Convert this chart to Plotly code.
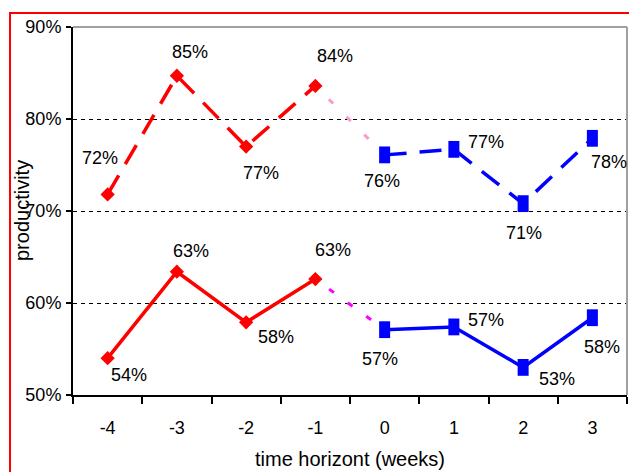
import plotly.graph_objects as go

# Weeks relative to the intervention
weeks_before = ["-4", "-3", "-2", "-1"]
weeks_after = ["0", "1", "2", "3"]
all_weeks = weeks_before + weeks_after

# Productivity (%) - upper series (dashed)
upper_before = [71.8, 84.7, 77.0, 83.6]
upper_after = [76.1, 76.7, 70.8, 77.9]

# Productivity (%) - lower series (solid)
lower_before = [54.0, 63.4, 57.9, 62.6]
lower_after = [57.1, 57.4, 53.0, 58.4]

y_ticks = [50, 60, 70, 80, 90]

# Value label offsets in pixels (dx, dy) for each point
upper_before_off = [(-8, -36), (13, -24), (15, 26), (20, -30)]
upper_after_off = [(-3, 26), (32, -7), (1, 29), (17, 24)]
lower_before_off = [(21, 17), (14, -21), (30, 15), (18, -29)]
lower_after_off = [(-5, 29), (32, -7), (34, 12), (10, 29)]

RED = "#ff0000"
BLUE = "#0000ff"
FONT = "Liberation Sans, Arial, sans-serif"

W, H = 629, 472
ML, MR, MT, MB = 73, 2, 27, 77
PW, PH = W - ML - MR, H - MT - MB


def px_x(x):
    return (x - ML) / PW


def px_y(y):
    return (H - MB - y) / PH


fig = go.Figure()

# Dotted connectors from the last "before" week to the first "after" week
fig.add_trace(go.Scatter(
    x=[weeks_before[-1], weeks_after[0]], y=[upper_before[-1], upper_after[0]],
    mode="lines", line=dict(color="#ff99cc", width=3, dash="0px,19px,6px,0px"),
    hoverinfo="skip", showlegend=False))
fig.add_trace(go.Scatter(
    x=[weeks_before[-1], weeks_after[0]], y=[lower_before[-1], lower_after[0]],
    mode="lines", line=dict(color="#ff00ff", width=3, dash="0px,17px,6px,0px"),
    hoverinfo="skip", showlegend=False))

diamond = dict(symbol="diamond", size=11, color=RED, line=dict(width=0))
square = dict(symbol="line-ns", size=12, color=BLUE, line=dict(width=11, color=BLUE))

fig.add_trace(go.Scatter(x=weeks_before, y=upper_before, mode="lines+markers",
                         line=dict(color=RED, width=3.5, dash="22px,13px"),
                         marker=diamond, showlegend=False))
fig.add_trace(go.Scatter(x=weeks_after, y=upper_after, mode="lines+markers",
                         line=dict(color=BLUE, width=3.5, dash="22px,13px"),
                         marker=square, showlegend=False))
fig.add_trace(go.Scatter(x=weeks_before, y=lower_before, mode="lines+markers",
                         line=dict(color=RED, width=3.5),
                         marker=diamond, showlegend=False))
fig.add_trace(go.Scatter(x=weeks_after, y=lower_after, mode="lines+markers",
                         line=dict(color=BLUE, width=3.5),
                         marker=square, showlegend=False))

# Value labels (annotations on a category axis are placed by category index)
annotations = []
for xs, ys, offs in [(weeks_before, upper_before, upper_before_off),
                     (weeks_after, upper_after, upper_after_off),
                     (weeks_before, lower_before, lower_before_off),
                     (weeks_after, lower_after, lower_after_off)]:
    for x, y, (dx, dy) in zip(xs, ys, offs):
        annotations.append(dict(
            x=all_weeks.index(x), y=y, xref="x", yref="y", text=f"{y:.0f}%",
            showarrow=False, xshift=dx, yshift=-dy,
            font=dict(family=FONT, size=18, color="#000000")))

# Vertical axis title, placed explicitly in the left margin
annotations.append(dict(
    x=px_x(22), y=0.5, xref="paper", yref="paper", text="productivity",
    textangle=-90, showarrow=False, xanchor="center", yanchor="middle",
    font=dict(family=FONT, size=20, color="#000000")))

fig.update_layout(
    width=W, height=H,
    margin=dict(l=ML, r=MR, t=MT, b=MB, pad=0),
    paper_bgcolor="white", plot_bgcolor="white",
    font=dict(family=FONT, size=18, color="#000000"),
    annotations=annotations,
    xaxis=dict(
        type="category", categoryorder="array", categoryarray=all_weeks,
        range=[-0.5, len(all_weeks) - 0.5],
        tickson="boundaries", ticks="outside", ticklen=7, tickwidth=1.5, tickcolor="black",
        showline=True, linecolor="black", linewidth=2, showgrid=False, zeroline=False,
        ticklabelstandoff=15,
        title=dict(text="time horizont (weeks)", font=dict(size=20), standoff=15),
    ),
    yaxis=dict(
        range=[50, 90], tickvals=y_ticks, ticktext=[f"{v}%" for v in y_ticks],
        ticks="outside", ticklen=5, tickwidth=1.5, tickcolor="black",
        showline=True, linecolor="black", linewidth=2,
        showgrid=True, gridcolor="black", gridwidth=1.3, griddash="4px,4px",
        zeroline=False, ticklabelstandoff=1,
    ),
    shapes=[
        # grey frame on the top and right of the plot area
        dict(type="line", xref="paper", yref="paper", x0=0, x1=1, y0=1, y1=1,
             line=dict(color="#a0a0a0", width=2), layer="above"),
        dict(type="line", xref="paper", yref="paper", x0=1, x1=1, y0=0, y1=1,
             line=dict(color="#a0a0a0", width=2), layer="above"),
        # red outer border
        dict(type="rect", xref="paper", yref="paper",
             x0=px_x(10), x1=px_x(W + 20), y0=px_y(13), y1=px_y(H + 20),
             line=dict(color=RED, width=2), fillcolor="rgba(0,0,0,0)", layer="above"),
    ],
)

fig.write_html("out.html")
